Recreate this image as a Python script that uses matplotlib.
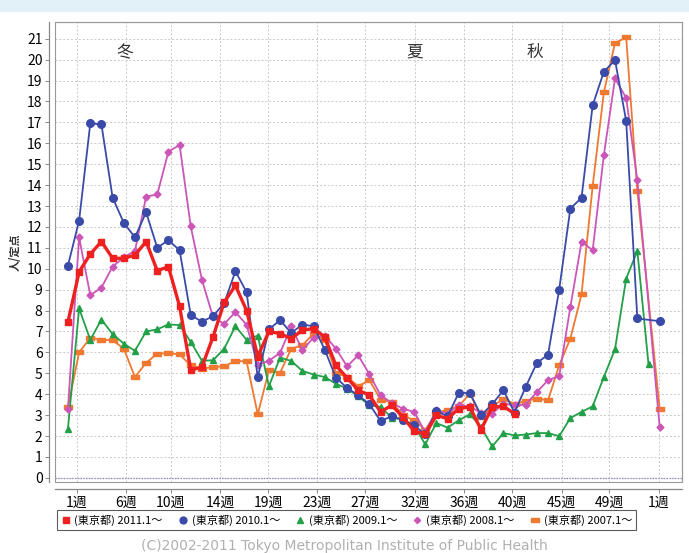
import numpy as np
import matplotlib
matplotlib.use("Agg")
import matplotlib.pyplot as plt
from matplotlib.patches import Rectangle

plt.rcParams['font.family'] = ['Noto Sans CJK JP', 'DejaVu Sans']

# ─── Data (人/定点, weekly; None = no point) ───
red_2011 = [7.45, 9.85, 10.7, 11.3, 10.5, 10.5, 10.65, 11.3, 9.9, 10.1,
            8.2, 5.15, 5.3, 6.75, 8.4, 9.2, 8.0, 5.8, 7.0, 6.9,
            6.66, 7.06, 7.14, 6.74, 5.38, 4.78, 4.19, 3.95, 3.15, 3.47,
            2.91, 2.24, 2.08, 2.99, 2.83, 3.31, 3.39, 2.3, 3.39, 3.42,
            3.07]
blue_2010 = [10.15, 12.3, 16.95, 16.9, 13.4, 12.2, 11.5, 12.7, 11.0, 11.37,
             10.88, 7.78, 7.47, 7.73, 8.36, 9.88, 8.88, 4.8, 7.1, 7.54,
             6.93, 7.33, 7.25, 6.13, 4.79, 4.3, 3.95, 3.52, 2.72, 2.94,
             2.78, 2.51, 2.08, 3.2, 2.94, 4.06, 4.06, 2.99, 3.52, 4.19,
             3.12, 4.35, 5.49, 5.89, 9.0, 12.88, 13.39, 17.82, 19.42, 19.98,
             17.07, 7.62, None, 7.49]
green_2009 = [2.35, 8.1, 6.6, 7.57, 6.87, 6.42, 6.07, 7.0, 7.1, 7.34,
              7.3, 6.5, 5.6, 5.62, 6.18, 7.25, 6.6, 6.8, 4.38, 5.75,
              5.59, 5.11, 4.94, 4.82, 4.5, 4.27, 3.9, 3.47, 3.39, 2.88,
              2.78, 2.51, 1.6, 2.62, 2.4, 2.75, 3.04, 2.43, 1.5, 2.14,
              2.03, 2.07, 2.14, 2.14, 1.99, 2.86, 3.15, 3.42, 4.82, 6.15,
              9.53, 10.85, 5.43]
pink_2008 = [3.3, 11.5, 8.73, 9.1, 10.1, 10.55, 10.85, 13.45, 13.55, 15.6,
             15.92, 12.02, 9.47, 7.68, 7.36, 7.93, 7.32, 5.4, 5.6, 5.97,
             7.25, 6.1, 6.71, 6.8, 6.18, 5.33, 5.86, 4.95, 3.95, 3.58,
             3.31, 3.15, 2.19, 3.23, 3.07, 3.47, 3.42, 3.1, 3.07, 3.55,
             3.47, 3.5, 4.1, 4.67, 4.86, 8.17, 11.28, 10.89, 15.43, 19.1,
             18.17, 14.23, None, 2.43]
orange_2007 = [3.4, 6.0, 6.7, 6.6, 6.58, 6.18, 4.82, 5.5, 5.94, 5.97,
               5.9, 5.38, 5.22, 5.3, 5.33, 5.59, 5.57, 3.04, 5.14, 5.02,
               6.18, 6.34, 6.9, 6.6, 5.02, 4.82, 4.38, 4.67, 3.74, 3.63,
               2.99, 2.75, 2.3, 3.1, 3.26, 3.42, 4.03, 2.91, 3.39, 3.79,
               3.52, 3.68, 3.79, 3.71, 5.38, 6.66, 8.77, 13.96, 18.43, 20.8,
               21.06, 13.7, None, 3.31]

series_labels = ["(東京都) 2011.1～", "(東京都) 2010.1～", "(東京都) 2009.1～",
                 "(東京都) 2008.1～", "(東京都) 2007.1～"]
tick_labels = ["1週", "6週", "10週", "14週", "19週", "23週", "27週",
               "32週", "36週", "40週", "45週", "49週", "1週"]
month_start_days = [0, 31, 59, 90, 120, 151, 181, 212, 243, 273, 304, 334, 365]
seasons = ["冬", "夏", "秋"]

# ─── Style ───
rect_marker = [(-1, -0.5), (1, -0.5), (1, 0.5), (-1, 0.5), (-1, -0.5)]
styles = [
    dict(color="#ee2020", marker="s", ms=5, lw=2.4, z=10),
    dict(color="#3a4aa8", marker="o", ms=5.5, lw=1.3, z=8),
    dict(color="#22a048", marker="^", ms=5, lw=1.3, z=6),
    dict(color="#cc55b8", marker="D", ms=3.5, lw=1.3, z=7),
    dict(color="#f07830", marker=rect_marker, ms=6, lw=1.3, z=5),
]
all_series = [red_2011, blue_2010, green_2009, pink_2008, orange_2007]

fig = plt.figure(figsize=(6.89, 5.53), dpi=100)
fig.patches.append(Rectangle((0, 1 - 12 / 553), 1, 12 / 553, transform=fig.transFigure,
                             facecolor="#e2f1f8", edgecolor="none", zorder=0))
ax = fig.add_axes([55 / 689, 1 - 482 / 553, (682 - 55) / 689, (482 - 22) / 553])

handles = []
for vals, st, lab in zip(all_series, styles, series_labels):
    idx = np.array([i for i, v in enumerate(vals) if v is not None])
    yv = np.array([v for v in vals if v is not None])
    ax.plot(idx, yv, color=st["color"], lw=st["lw"], zorder=st["z"],
            marker=st["marker"], ms=st["ms"], mec=st["color"], mfc=st["color"])
    h, = ax.plot([], [], ls="none", color=st["color"], marker=st["marker"],
                 ms=st["ms"] * 0.9, mec=st["color"], mfc=st["color"], label=lab)
    handles.append(h)

# week index 0 sits ~5.5 days before Jan 1
x_ticks = [0.78 + d / 7 for d in month_start_days]
ax.set_xlim(-1.16, 55.0)
ax.set_ylim(-0.2, 21.8)
ax.set_xticks(x_ticks)
ax.set_xticklabels(tick_labels, fontsize=7.5, fontweight="bold", color="#333333")
ax.set_yticks(range(0, 22))
ax.set_yticklabels([str(v) for v in range(0, 22)], fontsize=7.5, fontweight="bold",
                   color="#333333")
ax.grid(True, color="#c8c8c8", ls=(0, (2, 2)), lw=0.7)
ax.set_axisbelow(True)

for s in ["top", "right"]:
    ax.spines[s].set_color("#999999")
    ax.spines[s].set_linewidth(0.8)
ax.spines["left"].set_position(("outward", 4))
ax.spines["bottom"].set_position(("outward", 5))
for s in ["left", "bottom"]:
    ax.spines[s].set_color("#888888")
    ax.spines[s].set_linewidth(0.9)
ax.add_patch(Rectangle((0, 0), 1, 1, transform=ax.transAxes, fill=False,
                       edgecolor="#999999", lw=0.8, zorder=20, clip_on=False))
ax.axhline(0, color="#9090c8", lw=1.0, ls=(0, (1, 1)), zorder=3)
ax.tick_params(axis="both", length=3, width=0.7, color="#888888", pad=2)

ax.set_ylabel("人/定点", fontsize=8, fontweight="bold", color="#333333", labelpad=4)

season_x = [5.1, 31.07, 41.8]
for sx, txt in zip(season_x, seasons):
    ax.text(sx, 20.35, txt, fontsize=12, color="#333333", ha="center", va="center")

leg = fig.legend(handles=handles, loc="center", bbox_to_anchor=(0.503, 1 - 520 / 553),
                 ncol=5, fontsize=8, frameon=True, fancybox=False,
                 edgecolor="#333333", handlelength=0.8, handletextpad=0.4,
                 columnspacing=1.4, borderpad=0.35)
leg.get_frame().set_linewidth(0.8)

fig.text(0.5, 1 - 546 / 553, "(C)2002-2011 Tokyo Metropolitan Institute of Public Health",
         ha="center", va="center", fontsize=10, color="#b0b0b0",
         family=["Liberation Sans Narrow", "DejaVu Sans"])

fig.savefig("out.png", dpi=100)
